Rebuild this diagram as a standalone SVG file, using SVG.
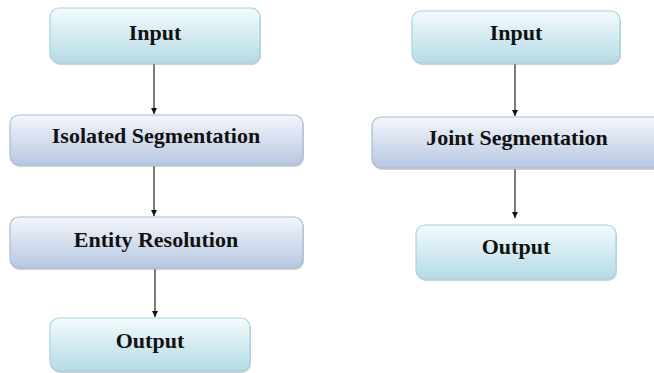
<svg xmlns="http://www.w3.org/2000/svg" width="654" height="373" viewBox="0 0 654 373">
<style>
.lbl{font-family:"Liberation Serif","Times New Roman",serif;font-weight:bold;font-size:22px;fill:#111;text-anchor:middle}
.io{fill:url(#gIO);stroke:#a6d2dd;stroke-width:1.2}
.proc{fill:url(#gP);stroke:#a9b9d9;stroke-width:1.2}
.sh{fill:#8f9aa3;opacity:0.45}
.con{stroke:#222;stroke-width:1.2;fill:none;marker-end:url(#ah)}
</style>
<defs>
<linearGradient id="gIO" x1="0" y1="0" x2="0" y2="1">
<stop offset="0" stop-color="#f3fbfc"/>
<stop offset="1" stop-color="#b5dbe5"/>
</linearGradient>
<linearGradient id="gP" x1="0" y1="0" x2="0" y2="1">
<stop offset="0" stop-color="#f4f6fb"/>
<stop offset="1" stop-color="#b6c7e1"/>
</linearGradient>
<marker id="ah" viewBox="0 0 10 10" refX="10" refY="5" markerWidth="6" markerHeight="7" markerUnits="userSpaceOnUse" orient="auto">
<path d="M0,0 L10,5 L0,10 z" fill="#111"/>
</marker>
</defs>
<g id="connectors">
<line class="con" x1="154" y1="64" x2="154" y2="114"/>
<line class="con" x1="154" y1="166" x2="154" y2="216"/>
<line class="con" x1="155" y1="269" x2="155" y2="317"/>
<line class="con" x1="515" y1="64" x2="515" y2="116"/>
<line class="con" x1="515" y1="169" x2="515" y2="218"/>
</g>
<g id="input-left">
<rect class="sh" x="51" y="10" width="210" height="55" rx="9"/>
<rect class="io" x="50" y="8" width="210" height="55" rx="9"/>
<text class="lbl" x="155" y="40">Input</text>
</g>
<g id="isolated-segmentation">
<rect class="sh" x="11" y="117" width="293" height="50" rx="9"/>
<rect class="proc" x="10" y="115" width="293" height="50" rx="9"/>
<text class="lbl" x="156" y="143">Isolated Segmentation</text>
</g>
<g id="entity-resolution">
<rect class="sh" x="11" y="219" width="293" height="51" rx="9"/>
<rect class="proc" x="10" y="217" width="293" height="51" rx="9"/>
<text class="lbl" x="156" y="247">Entity Resolution</text>
</g>
<g id="output-left">
<rect class="sh" x="51" y="320" width="200" height="53" rx="9"/>
<rect class="io" x="50" y="318" width="200" height="53" rx="9"/>
<text class="lbl" x="150" y="348">Output</text>
</g>
<g id="input-right">
<rect class="sh" x="413" y="13" width="208" height="52" rx="9"/>
<rect class="io" x="412" y="11" width="208" height="52" rx="9"/>
<text class="lbl" x="516" y="40">Input</text>
</g>
<g id="joint-segmentation">
<rect class="sh" x="373" y="119" width="292" height="51" rx="9"/>
<rect class="proc" x="372" y="117" width="292" height="51" rx="9"/>
<text class="lbl" x="517" y="145">Joint Segmentation</text>
</g>
<g id="output-right">
<rect class="sh" x="417" y="227" width="200" height="54" rx="9"/>
<rect class="io" x="416" y="225" width="200" height="54" rx="9"/>
<text class="lbl" x="516" y="254">Output</text>
</g>
</svg>
